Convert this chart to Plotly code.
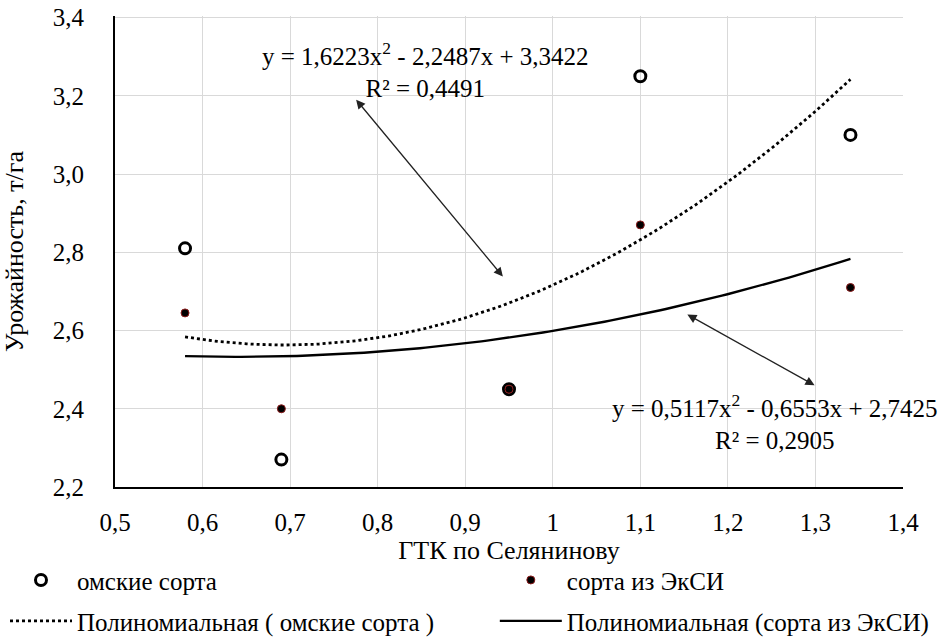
import numpy as np
import plotly.graph_objects as go

# data
x_gtk = [0.58, 0.69, 0.95, 1.10, 1.34]
y_omsk = [2.81, 2.27, 2.45, 3.25, 3.10]
y_eksi = [2.645, 2.40, 2.45, 2.87, 2.71]
coef_omsk = [1.6223, -2.2487, 3.3422]
coef_eksi = [0.5117, -0.6553, 2.7425]
x_ticks = [0.5, 0.6, 0.7, 0.8, 0.9, 1.0, 1.1, 1.2, 1.3, 1.4]
x_tick_labels = ["0,5", "0,6", "0,7", "0,8", "0,9", "1", "1,1", "1,2", "1,3", "1,4"]
y_ticks = [2.2, 2.4, 2.6, 2.8, 3.0, 3.2, 3.4]
y_tick_labels = ["2,2", "2,4", "2,6", "2,8", "3,0", "3,2", "3,4"]

FONT = "Liberation Serif"
FS = 25
xs = np.linspace(min(x_gtk), max(x_gtk), 120)

fig = go.Figure()
fig.add_trace(go.Scatter(
    x=x_gtk, y=y_omsk, mode="markers", name="омские сорта",
    marker=dict(symbol="circle-open", size=11, color="black", line=dict(width=3, color="black")),
    legend="legend"))
fig.add_trace(go.Scatter(
    x=x_gtk, y=y_eksi, mode="markers", name="сорта из ЭкСИ",
    marker=dict(symbol="circle", size=8, color="black", line=dict(width=1, color="#8b1a1a")),
    legend="legend2"))
fig.add_trace(go.Scatter(
    x=xs, y=np.polyval(coef_omsk, xs), mode="lines", name="Полиномиальная ( омские сорта )",
    line=dict(color="black", width=2.8, dash="dot"), legend="legend3"))
fig.add_trace(go.Scatter(
    x=xs, y=np.polyval(coef_eksi, xs), mode="lines", name="Полиномиальная (сорта из ЭкСИ)",
    line=dict(color="black", width=2.4), legend="legend4"))

fig.add_annotation(x=0.855, y=3.267, xref="x", yref="y",
                   text="y = 1,6223x<sup>2</sup> - 2,2487x + 3,3422<br>R² = 0,4491",
                   showarrow=False, font=dict(family=FONT, size=FS, color="black"), align="center")
fig.add_annotation(x=1.254, y=2.366, xref="x", yref="y",
                   text="y = 0,5117x<sup>2</sup> - 0,6553x + 2,7425<br>R² = 0,2905",
                   showarrow=False, font=dict(family=FONT, size=FS, color="black"), align="center")

# double-headed arrows
fig.add_annotation(x=0.943, y=2.738, ax=0.774, ay=3.194, xref="x", yref="y", axref="x", ayref="y",
                   text="", showarrow=True, arrowhead=2, startarrowhead=2, arrowside="end+start",
                   arrowsize=1.4, startarrowsize=1.4, arrowwidth=1.3, arrowcolor="#222")
fig.add_annotation(x=1.299, y=2.46, ax=1.152, ay=2.643, xref="x", yref="y", axref="x", ayref="y",
                   text="", showarrow=True, arrowhead=2, startarrowhead=2, arrowside="end+start",
                   arrowsize=1.4, startarrowsize=1.4, arrowwidth=1.3, arrowcolor="#222")

leg_common = dict(orientation="h", xanchor="left", yanchor="top", itemwidth=62,
                  font=dict(family=FONT, size=FS), bgcolor="rgba(0,0,0,0)")
col1_x = -0.1396
col2_x = 0.482
row1_y = -0.149
row2_y = -0.236

fig.update_layout(
    width=943, height=639,
    margin=dict(l=115, r=40, t=16, b=152, autoexpand=False),
    paper_bgcolor="white", plot_bgcolor="white",
    font=dict(family=FONT, size=FS, color="black"),
    showlegend=True,
    xaxis=dict(range=[0.5, 1.4], tickvals=x_ticks, ticktext=x_tick_labels,
               showgrid=True, gridcolor="#d9d9d9", gridwidth=1,
               showline=True, linecolor="black", linewidth=2, mirror=False,
               zeroline=False, ticks="", ticklen=0, automargin=False,
               ticklabelstandoff=12, tickfont=dict(family=FONT, size=FS),
               ticklabeloverflow="allow",
               title=dict(text="ГТК по Селянинову", font=dict(family=FONT, size=26), standoff=3)),
    yaxis=dict(range=[2.2, 3.404], tickvals=y_ticks, ticktext=y_tick_labels,
               showgrid=True, gridcolor="#d9d9d9", gridwidth=1,
               showline=True, linecolor="black", linewidth=2,
               zeroline=False, ticks="", ticklen=0, automargin=False,
               ticklabelstandoff=24, tickfont=dict(family=FONT, size=FS),
               ticklabeloverflow="allow",
               title=dict(text="Урожайность, т/га", font=dict(family=FONT, size=26), standoff=25)),
    legend=dict(x=col1_x, y=row1_y, **leg_common),
    legend2=dict(x=col2_x, y=row1_y, **leg_common),
    legend3=dict(x=col1_x, y=row2_y, **leg_common),
    legend4=dict(x=col2_x, y=row2_y, **leg_common),
)

fig.write_html("out.html", config={"displayModeBar": False},
               post_script="document.body.style.margin='0';")
